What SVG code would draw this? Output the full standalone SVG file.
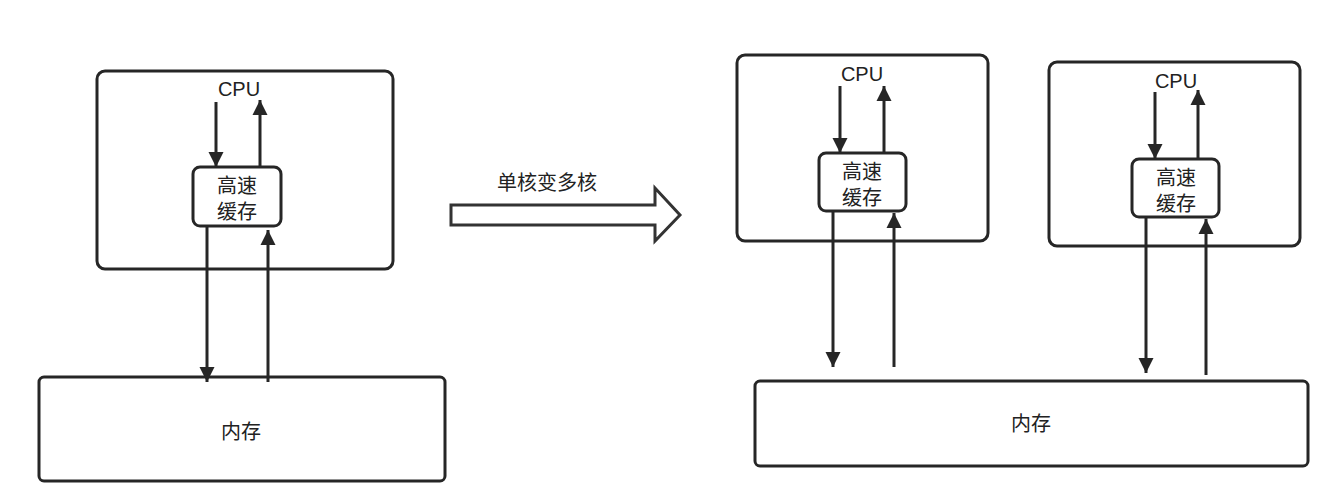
<svg xmlns="http://www.w3.org/2000/svg" width="1342" height="498" viewBox="0 0 1342 498">
<style>
.b{fill:#fff;stroke:#262626;stroke-width:3}
.l{stroke:#262626;stroke-width:3;fill:none}
.t{font-family:"Liberation Sans","Noto Sans CJK SC",sans-serif;font-size:20px;fill:#222;text-anchor:middle}
</style>
<defs>
<marker id="a" viewBox="0 0 10 10" refX="10" refY="5" markerWidth="5" markerHeight="6" markerUnits="strokeWidth" orient="auto"><path d="M0,0L10,5L0,10Z" fill="#262626"/></marker>
</defs>
<rect width="1342" height="498" fill="#fff"/>
<g id="cpu1"><rect class="b" x="97" y="71" width="296" height="198" rx="8"/><text class="t" x="239" y="96">CPU</text></g>
<g id="cache1"><rect class="b" x="193" y="167" width="88" height="59" rx="7"/><text class="t" x="237" y="193">高速</text><text class="t" x="237" y="219">缓存</text></g>
<g id="mem1"><rect class="b" x="39" y="377" width="406" height="104" rx="5"/><text class="t" x="241" y="439">内存</text></g>
<g id="cpu2"><rect class="b" x="737" y="55" width="251" height="186" rx="8"/><text class="t" x="862" y="81">CPU</text></g>
<g id="cache2"><rect class="b" x="819" y="153" width="87" height="58" rx="7"/><text class="t" x="862" y="179">高速</text><text class="t" x="862" y="205">缓存</text></g>
<g id="cpu3"><rect class="b" x="1049" y="62" width="251" height="184" rx="8"/><text class="t" x="1176" y="88">CPU</text></g>
<g id="cache3"><rect class="b" x="1132" y="159" width="87" height="58" rx="7"/><text class="t" x="1176" y="185">高速</text><text class="t" x="1176" y="211">缓存</text></g>
<g id="mem2"><rect class="b" x="755" y="381" width="553" height="85" rx="5"/><text class="t" x="1031" y="431">内存</text></g>
<g id="bigarrow"><path d="M451,205H655V188L680,215L655,241V225H451Z" fill="#fff" stroke="#333" stroke-width="3" stroke-linejoin="miter"/><text class="t" x="547" y="190">单核变多核</text></g>
<g id="connectors">
<line class="l" x1="216" y1="102" x2="216" y2="167" marker-end="url(#a)"/>
<line class="l" x1="260" y1="167" x2="260" y2="100" marker-end="url(#a)"/>
<line class="l" x1="207" y1="226" x2="207" y2="382" marker-end="url(#a)"/>
<line class="l" x1="268" y1="382" x2="268" y2="230" marker-end="url(#a)"/>
<line class="l" x1="840" y1="86" x2="840" y2="153" marker-end="url(#a)"/>
<line class="l" x1="884" y1="153" x2="884" y2="86" marker-end="url(#a)"/>
<line class="l" x1="833" y1="211" x2="833" y2="367" marker-end="url(#a)"/>
<line class="l" x1="894" y1="367" x2="894" y2="213" marker-end="url(#a)"/>
<line class="l" x1="1155" y1="92" x2="1155" y2="159" marker-end="url(#a)"/>
<line class="l" x1="1198" y1="159" x2="1198" y2="90" marker-end="url(#a)"/>
<line class="l" x1="1146" y1="217" x2="1146" y2="373" marker-end="url(#a)"/>
<line class="l" x1="1206" y1="375" x2="1206" y2="219" marker-end="url(#a)"/>
</g>
</svg>
